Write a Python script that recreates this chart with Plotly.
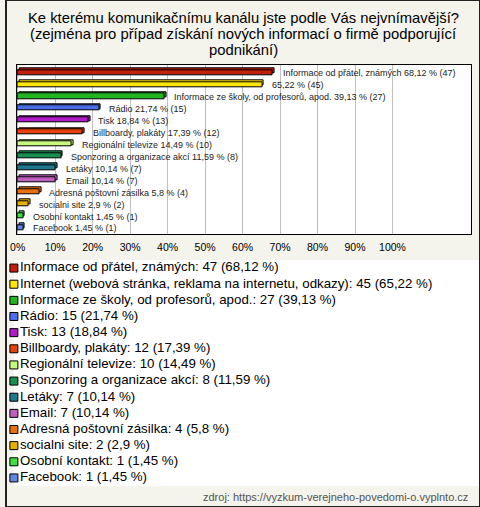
import plotly.graph_objects as go

W, H = 480, 507

title_lines = [
    "Ke kterému komunikačnímu kanálu jste podle Vás nejvnímavější?",
    "(zejména pro případ získání nových informací o firmě podporující",
    "podnikání)",
]
categories = [
    "Informace od přátel, známých",
    "Internet (webová stránka, reklama na internetu, odkazy)",
    "Informace ze školy, od profesorů, apod.",
    "Rádio",
    "Tisk",
    "Billboardy, plakáty",
    "Regionální televize",
    "Sponzoring a organizace akcí",
    "Letáky",
    "Email",
    "Adresná poštovní zásilka",
    "socialni site",
    "Osobní kontakt",
    "Facebook",
]
bar_names = [
    "Informace od přátel, známých", "", "Informace ze školy, od profesorů, apod.",
    "Rádio", "Tisk", "Billboardy, plakáty", "Regionální televize",
    "Sponzoring a organizace akcí", "Letáky", "Email", "Adresná poštovní zásilka",
    "socialni site", "Osobní kontakt", "Facebook",
]
counts = [47, 45, 27, 15, 13, 12, 10, 8, 7, 7, 4, 2, 1, 1]
percents = [68.12, 65.22, 39.13, 21.74, 18.84, 17.39, 14.49, 11.59, 10.14, 10.14, 5.8, 2.9, 1.45, 1.45]
percent_labels = ["68,12", "65,22", "39,13", "21,74", "18,84", "17,39", "14,49",
                  "11,59", "10,14", "10,14", "5,8", "2,9", "1,45", "1,45"]
colors = ["#c0200e", "#ffe60a", "#22b422", "#4a6ee8", "#b01cc8", "#e8400e", "#c8fa80",
          "#1a9050", "#20788c", "#c060c0", "#e8700e", "#e8b000", "#40e040", "#6088e0"]
tick_values = [0, 10, 20, 30, 40, 50, 60, 70, 80, 90, 100]
tick_labels = ["0%", "10%", "20%", "30%", "40%", "50%", "60%", "70%", "80%", "90%", "100%"]
source_text = "zdroj: https://vyzkum-verejneho-povedomi-o.vyplnto.cz"

FONT = "Liberation Sans, Arial, sans-serif"
idx = list(range(len(categories)))
bw = 0.42

fig = go.Figure()
# back (depth) bars for a 3D look
fig.add_trace(go.Bar(
    y=idx, x=percents, base=0.5, orientation="h", width=bw, offset=-bw / 2 - 0.14,
    marker=dict(color=colors, line=dict(color="black", width=1)),
    hoverinfo="skip", showlegend=False,
))
fig.add_trace(go.Bar(
    y=idx, x=percents, orientation="h", width=bw, offset=-bw / 2,
    marker=dict(color=colors, line=dict(color="black", width=1)),
    showlegend=False,
))

annotations = []
for i, (n, p, pl, c) in enumerate(zip(bar_names, percents, percent_labels, counts)):
    txt = (n + " " if n else "") + f"{pl} % ({c})"
    annotations.append(dict(x=p, y=i, xref="x", yref="y", text=txt, showarrow=False,
                            xanchor="left", yanchor="middle", xshift=8, yshift=-1,
                            font=dict(family=FONT, size=9, color="#222")))

# legend drawn as markers + text on a secondary axis pair
leg_text = [f"{n}: {c} ({pl} %)" for n, c, pl in zip(categories, counts, percent_labels)]
fig.add_trace(go.Scatter(
    x=[0] * len(idx), y=idx, xaxis="x2", yaxis="y2", mode="markers+text",
    marker=dict(symbol="square", size=8, color=colors, line=dict(color="black", width=1)),
    text=leg_text, textposition="middle right",
    textfont=dict(family=FONT, size=13.3, color="black"),
    hoverinfo="skip", showlegend=False, cliponaxis=False,
))

for k, line in enumerate(title_lines):
    annotations.append(dict(x=0.5, y=1 - (18 + 16 * k) / H, xref="paper", yref="paper",
                            text=line, showarrow=False, xanchor="center", yanchor="middle",
                            font=dict(family=FONT, size=14.8, color="black")))
annotations.append(dict(x=470 / W, y=1 - 497 / H, xref="paper", yref="paper", text=source_text,
                        showarrow=False, xanchor="right", yanchor="middle",
                        font=dict(family=FONT, size=11, color="#555")))

fig.update_layout(
    width=W, height=H, margin=dict(l=0, r=0, t=0, b=0),
    paper_bgcolor="#f4f3ec", plot_bgcolor="white",
    barmode="overlay", bargap=0,
    xaxis=dict(domain=[10.7 / W, 470.7 / W], range=[-0.3, 120.9], tickvals=tick_values,
               ticktext=tick_labels, showgrid=True, gridcolor="#c0c0c0", gridwidth=1,
               zeroline=False, showline=True, linecolor="black", linewidth=1, mirror=True,
               ticks="", tickfont=dict(family=FONT, size=10.5, color="black"),
               ticklabelstandoff=3),
    yaxis=dict(domain=[1 - 234 / H, 1 - 65.3 / H], range=[13.55, -0.6], showticklabels=False,
               showgrid=False, zeroline=False, showline=True, linecolor="black", linewidth=1,
               mirror=True, ticks=""),
    xaxis2=dict(domain=[8 / W, 1], range=[0, 1], visible=False, anchor="y2"),
    yaxis2=dict(domain=[1 - 486 / H, 1 - 260 / H], range=[13.5, -0.5], visible=False, anchor="x2"),
    annotations=annotations,
    shapes=[dict(type="rect", xref="paper", yref="paper", x0=0, y0=0, x1=1, y1=1,
                 line=dict(color="#222", width=2), fillcolor="rgba(0,0,0,0)")],
)

fig.write_html("out.html", config={"displayModeBar": False},
               post_script="document.body.style.margin='0';document.body.style.overflow='hidden';")
